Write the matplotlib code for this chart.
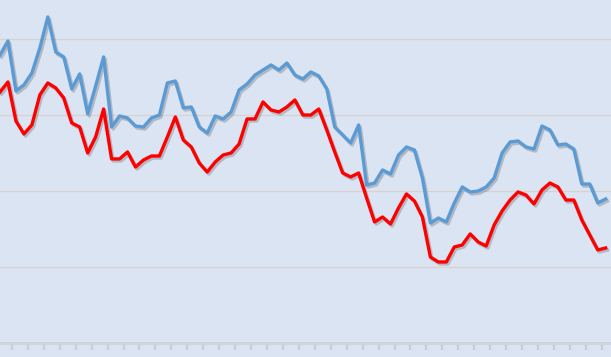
import numpy as np
import matplotlib
matplotlib.use("Agg")
import matplotlib.pyplot as plt
import matplotlib.patheffects as pe

# values (gridlines at 10, 20, 30, 40)
blue = [37.88, 39.72, 33.14, 33.93, 35.51, 38.80, 42.89, 38.27, 37.62, 33.40,
        35.38, 30.11, 33.79, 37.62, 28.39, 29.84, 29.58, 28.52, 28.39, 29.58,
        29.97, 34.19, 34.45, 30.90, 31.03, 28.39, 27.60, 29.84, 29.45, 30.37,
        33.27, 34.06, 35.24, 35.90, 36.56, 35.90, 36.82, 35.24, 34.72, 35.64,
        35.11, 33.40, 28.39, 27.34, 26.28, 28.66, 20.75, 21.01, 22.73, 22.20,
        24.70, 25.76, 25.36, 21.67, 15.74, 16.40, 15.88, 18.38, 20.49, 19.83,
        19.96, 20.49, 21.67, 24.97, 26.42, 26.55, 25.76, 25.49, 28.52, 28.00,
        26.02, 26.15, 25.49, 20.88, 20.88, 18.38, 18.91]
red = [33.00, 34.32, 29.18, 27.47, 28.66, 32.61, 34.19, 33.53, 32.21, 28.92,
       28.39, 24.97, 27.08, 30.76, 24.18, 24.18, 25.10, 23.12, 24.04, 24.57,
       24.57, 27.08, 29.71, 26.68, 25.76, 23.65, 22.46, 23.78, 24.70, 24.97,
       26.15, 29.45, 29.45, 31.69, 30.63, 30.37, 31.03, 31.95, 29.97, 29.97,
       30.76, 28.00, 25.10, 22.33, 21.81, 22.33, 19.04, 15.88, 16.53, 15.61,
       17.72, 19.57, 18.64, 16.53, 11.26, 10.61, 10.61, 12.58, 12.85, 14.30,
       13.24, 12.71, 15.48, 17.33, 18.77, 19.83, 19.43, 18.25, 20.09, 21.01,
       20.49, 18.77, 18.77, 16.14, 14.16, 12.19, 12.45]
grid_vals = [10, 20, 30, 40]

bg = '#dbe4f2'
fig = plt.figure(figsize=(6.11, 3.57), dpi=100, facecolor=bg)
ax = fig.add_axes([0, 14.5 / 357, 1, 342.5 / 357])
ax.set_facecolor(bg)

x = np.arange(len(blue))
shadow = [pe.SimpleLineShadow(offset=(1.2, -1.5), shadow_color='#6a6a6a', alpha=0.35),
          pe.Normal()]
ax.plot(x, blue, color='#5b9bd5', lw=2.4, solid_joinstyle='round', path_effects=shadow, zorder=3)
ax.plot(x, red, color='#ff0000', lw=2.4, solid_joinstyle='round', path_effects=shadow, zorder=4)

for g in grid_vals:
    ax.axhline(g, color='#d6d3d0', lw=0.9, zorder=1)

ax.set_xlim(0, 611 / 7.97)
ax.set_ylim(0, 45.12)
ax.set_yticks([])
ax.set_xticks(np.arange(1.5, 77, 2))
ax.tick_params(axis='x', direction='out', length=5, width=1.6, color='#c9cfd9',
               labelbottom=False)
for s in ['top', 'right', 'left']:
    ax.spines[s].set_visible(False)
ax.spines['bottom'].set_color('#cdd3dc')
ax.spines['bottom'].set_linewidth(2)

fig.savefig('out.png', dpi=100, facecolor=bg)
